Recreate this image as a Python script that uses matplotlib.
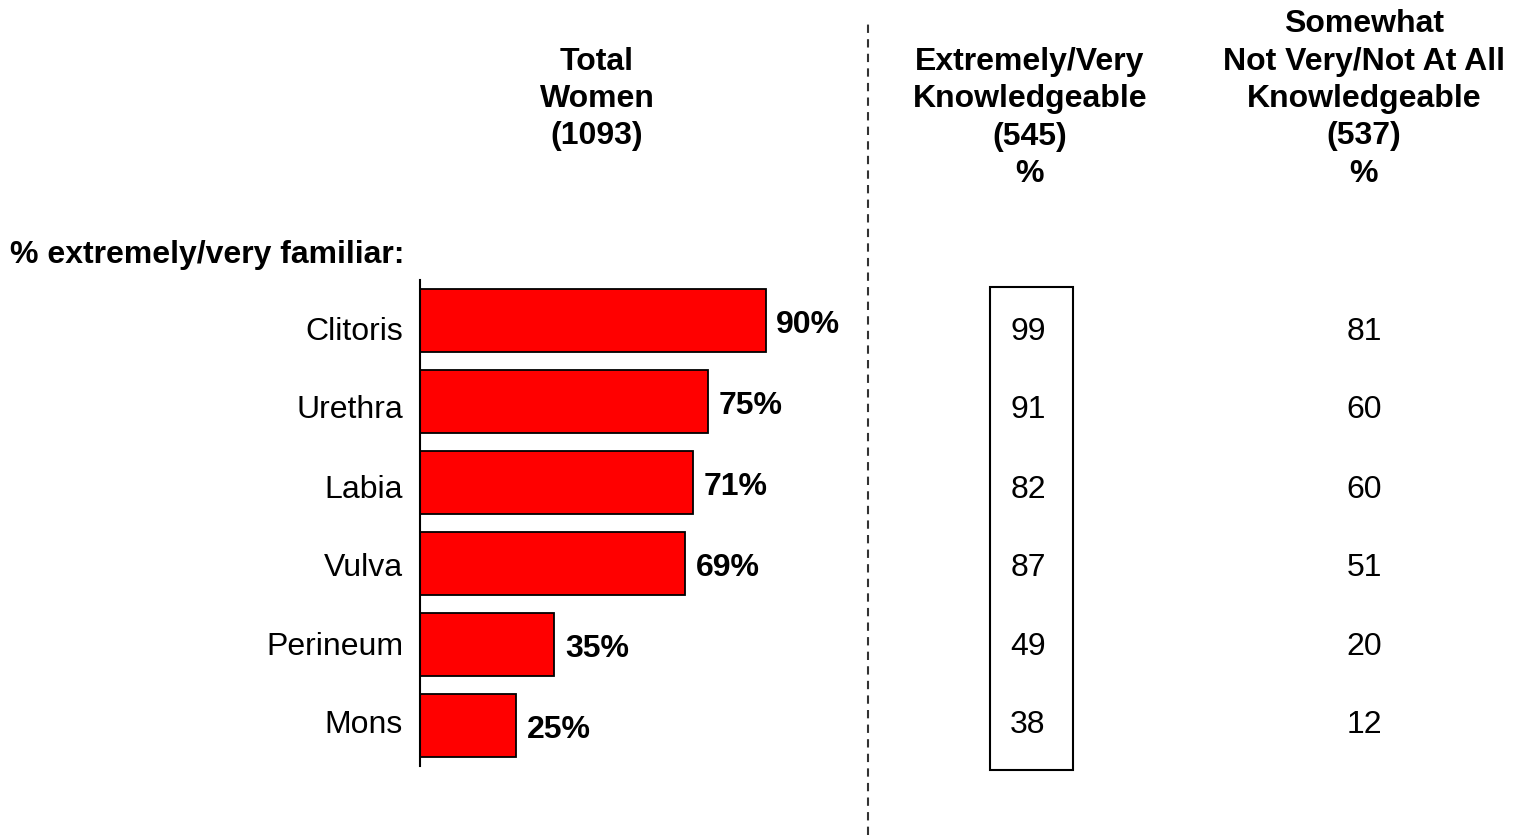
"""
Familiarity with female anatomy terms - bar chart with side table
"""

import matplotlib
matplotlib.use("Agg")
import matplotlib.pyplot as plt
from matplotlib.transforms import blended_transform_factory
from matplotlib.patches import Rectangle

plt.rcParams['font.family'] = ['Liberation Sans', 'DejaVu Sans']

# data
terms = ['Clitoris', 'Urethra', 'Labia', 'Vulva', 'Perineum', 'Mons']
total_women = [90, 75, 71, 69, 35, 25]
very_knowledgeable = [99, 91, 82, 87, 49, 38]
less_knowledgeable = [81, 60, 60, 51, 20, 12]

headers = [
    'Total\nWomen\n(1093)',
    'Extremely/Very\nKnowledgeable\n(545)\n%',
    'Somewhat\nNot Very/Not At All\nKnowledgeable\n(537)\n%',
]

# text rows sit on a slightly tighter pitch than the bars (in bar units)
text_rows = [0.14, 1.10, 2.09, 3.06, 4.03, 4.99]

W, H = 1514, 835
FS = 23
fig = plt.figure(figsize=(W / 100, H / 100), dpi=100)

# bar axes, placed in pixels
left, right, top, bottom = 420, 804, 280, 766
ax = fig.add_axes([left / W, 1 - bottom / H, (right - left) / W, (bottom - top) / H])

y = list(range(len(terms)))
ax.barh(y, total_women, height=0.77, color='#ff0000', edgecolor='black', linewidth=1.3)
ax.set_xlim(0, 100)
ax.set_ylim(len(terms) - 0.5, -0.5)

for yi, v in zip(y, total_women):
    ax.text(v + 2.8, yi + 0.05, f'{v}%', ha='left', va='center',
            fontsize=FS, fontweight='bold')

# category labels
for ty, term in zip(text_rows, terms):
    ax.text(-4.4, ty, term, ha='right', va='center', fontsize=FS, clip_on=False)

ax.set_yticks([])
ax.set_xticks([])
for side in ['top', 'right', 'bottom']:
    ax.spines[side].set_visible(False)
ax.spines['left'].set_linewidth(1.5)

# table columns, y taken from the bar axis
trans = blended_transform_factory(fig.transFigure, ax.transData)
for ty, a, b in zip(text_rows, very_knowledgeable, less_knowledgeable):
    ax.text(1028 / W, ty, str(a), transform=trans, ha='center', va='center', fontsize=FS)
    ax.text(1364 / W, ty, str(b), transform=trans, ha='center', va='center', fontsize=FS)

# box round the highlighted column
fig.patches.append(Rectangle((990 / W, 1 - 770 / H), 83 / W, 483 / H,
                             transform=fig.transFigure, fill=False,
                             edgecolor='black', linewidth=1.5))

# dashed divider
fig.add_artist(plt.Line2D([868 / W, 868 / W], [0, 1 - 20 / H], transform=fig.transFigure,
                          color='#333333', linestyle=(0, (4, 3)), linewidth=1.5))

# headers
header_x = [597, 1030, 1364]
header_y = [99, 118, 99]
for hx, hy, txt in zip(header_x, header_y, headers):
    fig.text(hx / W, 1 - hy / H, txt, ha='center', va='center', multialignment='center',
             fontsize=FS, fontweight='bold', linespacing=1.32)

fig.text(10 / W, 1 - 255 / H, '% extremely/very familiar:', ha='left', va='center',
         fontsize=FS, fontweight='bold')

fig.savefig('out.png', dpi=100)
